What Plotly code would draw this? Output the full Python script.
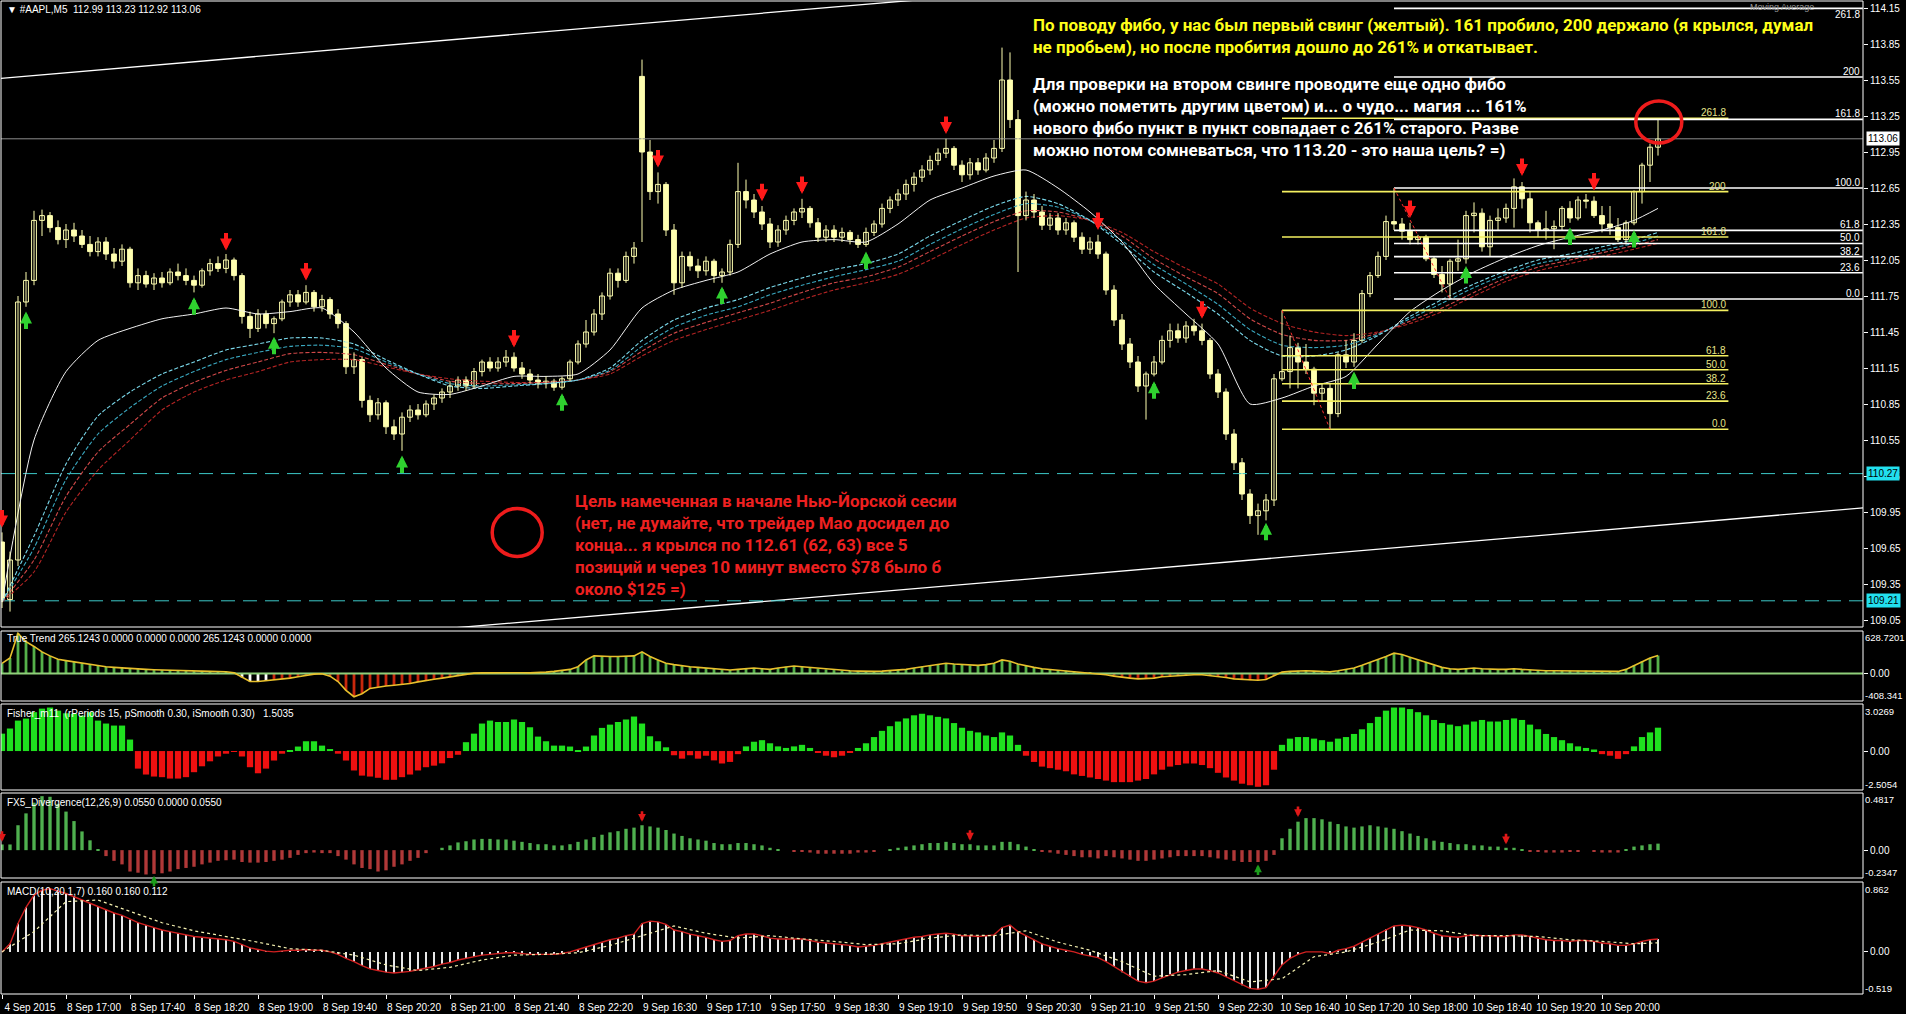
import plotly.graph_objects as go
from plotly.subplots import make_subplots

# ======================= DATA =======================
N_BARS = 208
bar_index = list(range(N_BARS))

tick_bars = list(range(0, 201, 8))
tick_texts = ["4 Sep 2015", "8 Sep 17:00", "8 Sep 17:40", "8 Sep 18:20", "8 Sep 19:00",
              "8 Sep 19:40", "8 Sep 20:20", "8 Sep 21:00", "8 Sep 21:40", "8 Sep 22:20",
              "9 Sep 16:30", "9 Sep 17:10", "9 Sep 17:50", "9 Sep 18:30", "9 Sep 19:10",
              "9 Sep 19:50", "9 Sep 20:30", "9 Sep 21:10", "9 Sep 21:50", "9 Sep 22:30",
              "10 Sep 16:40", "10 Sep 17:20", "10 Sep 18:00", "10 Sep 18:40", "10 Sep 19:20",
              "10 Sep 20:00"]

price_ticks = [109.05, 109.35, 109.65, 109.95, 110.25, 110.55, 110.85, 111.15, 111.45,
               111.75, 112.05, 112.35, 112.65, 112.95, 113.25, 113.55, 113.85, 114.15]

opens = [109.70, 109.22, 109.55, 111.70, 111.88, 112.38, 112.42, 112.32, 112.22, 112.30,
         112.25, 112.18, 112.12, 112.20, 112.10, 112.04, 112.14, 111.86, 111.92, 111.85,
         111.90, 111.86, 111.95, 111.92, 111.88, 111.84, 111.96, 112.02, 111.98, 112.05,
         111.92, 111.58, 111.48, 111.60, 111.52, 111.56, 111.70, 111.76, 111.70, 111.78,
         111.66, 111.72, 111.60, 111.52, 111.16, 111.22, 110.88, 110.76, 110.86, 110.66,
         110.60, 110.74, 110.80, 110.76, 110.85, 110.90, 110.95, 111.00, 111.05, 111.00,
         111.12, 111.20, 111.15, 111.20, 111.24, 111.15, 111.10, 111.05, 111.02, 111.04,
         110.99, 111.06, 111.20, 111.35, 111.45, 111.60, 111.75, 111.94, 111.88, 112.08,
         113.58, 112.95, 112.62, 112.68, 112.30, 111.86, 112.08, 112.00, 111.96, 112.04,
         111.92, 111.95, 112.18, 112.62, 112.55, 112.45, 112.35, 112.20, 112.30, 112.38,
         112.45, 112.48, 112.36, 112.24, 112.30, 112.24, 112.28, 112.22, 112.18, 112.28,
         112.35, 112.48, 112.55, 112.60, 112.68, 112.74, 112.80, 112.88, 112.94, 112.98,
         112.84, 112.76, 112.86, 112.80, 112.90, 112.98, 113.55, 113.22, 112.42, 112.55,
         112.45, 112.34, 112.40, 112.30, 112.36, 112.24, 112.14, 112.20, 112.10, 111.80,
         111.55, 111.35, 111.20, 111.00, 111.10, 111.20, 111.38, 111.46, 111.40, 111.50,
         111.46, 111.38, 111.10, 110.95, 110.60, 110.36, 110.10, 109.92, 109.96, 110.05,
         111.06, 111.12, 111.32, 111.20, 111.14, 110.94, 110.98, 110.77, 111.26, 111.20,
         111.38, 111.77, 111.92, 112.08, 112.37, 112.35, 112.29, 112.22, 112.24, 112.06,
         111.93, 111.85, 112.04, 112.06, 112.42, 112.44, 112.16, 112.38, 112.40, 112.48,
         112.66, 112.56, 112.36, 112.30, 112.31, 112.33, 112.48, 112.40, 112.55, 112.54,
         112.42, 112.35, 112.32, 112.22, 112.36, 112.62, 112.84, 112.99]

highs = [109.78, 109.62, 111.75, 111.95, 112.46, 112.47, 112.45, 112.38, 112.35, 112.36,
         112.30, 112.25, 112.24, 112.24, 112.15, 112.18, 112.16, 111.98, 111.96, 111.94,
         111.95, 111.98, 112.02, 111.98, 111.92, 111.98, 112.06, 112.08, 112.10, 112.07,
         111.94, 111.62, 111.64, 111.63, 111.58, 111.72, 111.80, 111.80, 111.84, 111.80,
         111.76, 111.74, 111.64, 111.54, 111.28, 111.24, 110.92, 110.90, 110.88, 110.72,
         110.78, 110.84, 110.85, 110.88, 110.93, 110.98, 111.04, 111.08, 111.08, 111.15,
         111.22, 111.24, 111.24, 111.30, 111.28, 111.20, 111.14, 111.10, 111.08, 111.06,
         111.08, 111.22, 111.38, 111.55, 111.64, 111.78, 111.98, 111.98, 112.12, 112.20,
         113.72, 113.05, 112.78, 112.70, 112.35, 112.12, 112.12, 112.06, 112.08, 112.06,
         111.98, 112.22, 112.86, 112.72, 112.60, 112.50, 112.40, 112.34, 112.42, 112.48,
         112.56, 112.50, 112.40, 112.34, 112.34, 112.32, 112.30, 112.26, 112.32, 112.38,
         112.52, 112.58, 112.64, 112.72, 112.78, 112.84, 112.92, 112.98, 113.06, 113.00,
         112.88, 112.90, 112.90, 112.94, 113.05, 113.82, 113.78, 113.30, 112.62, 112.60,
         112.50, 112.44, 112.44, 112.40, 112.38, 112.28, 112.24, 112.26, 112.12, 111.84,
         111.60, 111.40, 111.25, 111.12, 111.25, 111.42, 111.52, 111.52, 111.54, 111.56,
         111.52, 111.40, 111.14, 110.98, 110.64, 110.40, 110.14, 110.02, 110.10, 111.10,
         111.63, 111.42, 111.36, 111.35, 111.16, 111.02, 111.02, 111.28, 111.38, 111.44,
         111.80, 111.95, 112.12, 112.42, 112.65, 112.40, 112.36, 112.26, 112.26, 112.08,
         112.00, 112.06, 112.22, 112.46, 112.53, 112.48, 112.42, 112.48, 112.52, 112.73,
         112.70, 112.62, 112.38, 112.46, 112.38, 112.50, 112.54, 112.58, 112.60, 112.58,
         112.50, 112.50, 112.40, 112.38, 112.63, 112.86, 113.02, 113.23]

lows = [109.15, 109.12, 109.50, 111.66, 111.84, 112.25, 112.28, 112.18, 112.15, 112.20,
        112.15, 112.08, 112.08, 112.05, 111.98, 112.00, 111.82, 111.80, 111.82, 111.80,
        111.82, 111.84, 111.88, 111.84, 111.78, 111.82, 111.92, 111.95, 111.94, 111.88,
        111.52, 111.40, 111.45, 111.48, 111.44, 111.54, 111.66, 111.66, 111.68, 111.62,
        111.62, 111.56, 111.48, 111.10, 111.10, 110.82, 110.70, 110.72, 110.60, 110.55,
        110.46, 110.70, 110.72, 110.74, 110.80, 110.86, 110.90, 110.96, 110.96, 110.98,
        111.08, 111.12, 111.12, 111.16, 111.12, 111.06, 111.02, 110.98, 110.98, 110.96,
        110.97, 111.04, 111.18, 111.32, 111.42, 111.55, 111.72, 111.82, 111.86, 112.02,
        112.20, 112.55, 112.52, 112.25, 111.76, 111.82, 111.96, 111.90, 111.92, 111.86,
        111.86, 111.92, 112.15, 112.48, 112.40, 112.30, 112.15, 112.16, 112.26, 112.34,
        112.40, 112.32, 112.20, 112.20, 112.20, 112.20, 112.18, 112.15, 112.16, 112.25,
        112.32, 112.44, 112.50, 112.55, 112.62, 112.70, 112.76, 112.84, 112.90, 112.80,
        112.70, 112.72, 112.76, 112.78, 112.86, 112.95, 113.15, 111.95, 112.38, 112.40,
        112.30, 112.30, 112.26, 112.26, 112.20, 112.10, 112.10, 112.06, 111.76, 111.50,
        111.30, 111.15, 110.95, 110.72, 111.08, 111.18, 111.32, 111.36, 111.36, 111.42,
        111.34, 111.06, 110.90, 110.55, 110.30, 110.05, 109.85, 109.76, 109.88, 110.00,
        111.04, 110.98, 110.98, 111.10, 110.84, 110.88, 110.64, 110.74, 111.15, 111.16,
        111.36, 111.74, 111.90, 112.05, 112.30, 112.22, 112.18, 112.18, 112.04, 111.90,
        111.78, 111.725, 111.96, 112.02, 112.28, 112.12, 112.08, 112.30, 112.36, 112.32,
        112.48, 112.28, 112.24, 112.22, 112.14, 112.30, 112.36, 112.38, 112.48, 112.40,
        112.28, 112.26, 112.20, 112.18, 112.34, 112.52, 112.70, 112.92]

closes = [109.22, 109.55, 111.70, 111.88, 112.38, 112.42, 112.32, 112.22, 112.30, 112.25,
          112.18, 112.12, 112.20, 112.10, 112.04, 112.14, 111.86, 111.92, 111.85, 111.90,
          111.86, 111.95, 111.92, 111.88, 111.84, 111.96, 112.02, 111.98, 112.05, 111.92,
          111.58, 111.48, 111.60, 111.52, 111.56, 111.70, 111.76, 111.70, 111.78, 111.66,
          111.72, 111.60, 111.52, 111.16, 111.22, 110.88, 110.76, 110.86, 110.66, 110.60,
          110.74, 110.80, 110.76, 110.85, 110.90, 110.95, 111.00, 111.05, 111.00, 111.12,
          111.20, 111.15, 111.20, 111.24, 111.15, 111.10, 111.05, 111.02, 111.04, 110.99,
          111.06, 111.20, 111.35, 111.45, 111.60, 111.75, 111.94, 111.88, 112.08, 112.15,
          112.95, 112.62, 112.68, 112.30, 111.86, 112.08, 112.00, 111.96, 112.04, 111.92,
          111.95, 112.18, 112.62, 112.55, 112.45, 112.35, 112.20, 112.30, 112.38, 112.45,
          112.48, 112.36, 112.24, 112.30, 112.24, 112.28, 112.22, 112.18, 112.28, 112.35,
          112.48, 112.55, 112.60, 112.68, 112.74, 112.80, 112.88, 112.94, 112.98, 112.84,
          112.76, 112.86, 112.80, 112.90, 112.98, 113.55, 113.22, 112.42, 112.55, 112.45,
          112.34, 112.40, 112.30, 112.36, 112.24, 112.14, 112.20, 112.10, 111.80, 111.55,
          111.35, 111.20, 111.00, 111.10, 111.20, 111.38, 111.46, 111.40, 111.50, 111.46,
          111.38, 111.10, 110.95, 110.60, 110.36, 110.10, 109.92, 109.96, 110.05, 111.06,
          111.12, 111.32, 111.20, 111.14, 110.94, 110.98, 110.77, 111.26, 111.20, 111.38,
          111.77, 111.92, 112.08, 112.37, 112.35, 112.29, 112.22, 112.24, 112.06, 111.93,
          111.85, 112.04, 112.06, 112.42, 112.44, 112.16, 112.38, 112.40, 112.48, 112.66,
          112.56, 112.36, 112.30, 112.31, 112.33, 112.48, 112.40, 112.55, 112.54, 112.42,
          112.35, 112.32, 112.22, 112.36, 112.62, 112.84, 112.99, 113.06]

# moving averages, read every 4 bars
ma_bars = list(range(0, 205, 4)) + [207]
ma_white = [109.20, 110.55, 111.12, 111.38, 111.48, 111.56, 111.60, 111.65, 111.60, 111.62,
            111.65, 111.45, 111.15, 110.95, 110.93, 111.00, 111.08, 111.08, 111.10, 111.30,
            111.65, 111.80, 111.88, 111.95, 112.10, 112.20, 112.22, 112.20, 112.35, 112.55,
            112.65, 112.75, 112.80, 112.65, 112.45, 112.20, 111.85, 111.60, 111.35, 110.85,
            110.90, 111.00, 111.08, 111.35, 111.62, 111.80, 111.95, 112.07, 112.17, 112.24,
            112.30, 112.38, 112.48]
ma_cyan_1 = [109.20, 109.75, 110.35, 110.75, 110.95, 111.10, 111.20, 111.30, 111.35, 111.40,
             111.40, 111.35, 111.22, 111.10, 111.00, 110.98, 111.00, 111.02, 111.05, 111.15,
             111.38, 111.55, 111.65, 111.72, 111.82, 111.90, 111.97, 112.02, 112.10, 112.25,
             112.38, 112.50, 112.58, 112.52, 112.38, 112.18, 111.95, 111.78, 111.60, 111.38,
             111.25, 111.25, 111.30, 111.42, 111.58, 111.72, 111.85, 111.96, 112.05, 112.10,
             112.16, 112.22, 112.28]
ma_cyan_2 = [109.20, 109.65, 110.22, 110.60, 110.82, 111.00, 111.12, 111.22, 111.28, 111.33,
             111.34, 111.31, 111.20, 111.10, 111.02, 111.00, 111.01, 111.02, 111.05, 111.13,
             111.33, 111.49, 111.59, 111.66, 111.76, 111.84, 111.91, 111.97, 112.04, 112.18,
             112.31, 112.43, 112.52, 112.49, 112.38, 112.21, 112.01, 111.85, 111.68, 111.47,
             111.34, 111.32, 111.34, 111.43, 111.56, 111.69, 111.82, 111.93, 112.02, 112.07,
             112.13, 112.19, 112.25]
ma_red_1 = [109.20, 109.55, 110.08, 110.45, 110.68, 110.90, 111.03, 111.13, 111.20, 111.27,
            111.28, 111.26, 111.18, 111.10, 111.04, 111.02, 111.02, 111.03, 111.05, 111.12,
            111.29, 111.44, 111.53, 111.61, 111.69, 111.78, 111.86, 111.91, 111.99, 112.12,
            112.25, 112.37, 112.46, 112.45, 112.38, 112.25, 112.06, 111.91, 111.77, 111.56,
            111.43, 111.38, 111.38, 111.44, 111.54, 111.65, 111.78, 111.90, 111.99, 112.05,
            112.11, 112.17, 112.22]
ma_red_2 = [109.20, 109.45, 109.95, 110.30, 110.55, 110.80, 110.95, 111.05, 111.12, 111.20,
            111.22, 111.22, 111.16, 111.10, 111.06, 111.04, 111.03, 111.03, 111.05, 111.10,
            111.25, 111.38, 111.47, 111.55, 111.63, 111.72, 111.80, 111.86, 111.93, 112.05,
            112.18, 112.30, 112.40, 112.42, 112.38, 112.28, 112.12, 111.98, 111.85, 111.65,
            111.52, 111.45, 111.42, 111.45, 111.52, 111.62, 111.75, 111.87, 111.96, 112.02,
            112.08, 112.14, 112.19]

# signal arrows on the price chart (tip positions)
sell_bars = [0, 28, 38, 64, 82, 95, 100, 118, 137, 150, 176, 190, 199]
sell_prices = [109.82, 112.13, 111.88, 111.32, 112.82, 112.54, 112.60, 113.10, 112.30, 111.56,
               112.40, 112.75, 112.63]
buy_bars = [3, 24, 34, 50, 70, 90, 108, 144, 158, 169, 183, 196, 204]
buy_prices = [111.62, 111.74, 111.41, 110.42, 110.94, 111.83, 112.12, 111.04, 109.86, 111.12,
              112.00, 112.32, 112.30]

# Fibonacci retracements
fib_levels = [0.0, 23.6, 38.2, 50.0, 61.8, 100.0, 161.8, 200.0, 261.8]
fib_texts = ["0.0", "23.6", "38.2", "50.0", "61.8", "100.0", "161.8", "200", "261.8"]
fib_yellow = {"high_bar": 160, "high": 111.63, "low_bar": 166, "low": 110.64, "end_bar": 215.8}
fib_white = {"high_bar": 174, "high": 112.65, "low_bar": 181, "low": 111.725, "end_bar": 232.6}

# trend channel (two anchor points each)
channel_upper = [(0, 113.565), (100, 114.135)]
channel_lower = [(129.75, 109.40), (222.25, 109.925)]
target_levels = [110.27, 109.21]
bid_price = 113.06

# True Trend indicator
tt_values = [150, 230, 594, 470, 400, 320, 260, 210, 190, 170,
             150, 130, 115, 100, 90, 80, 72, 65, 60, 55,
             50, 45, 40, 38, 35, 32, 30, 28, 25, 10,
             -60, -120, -120, -110, -90, -80, -70, -50, -30, -10,
             -5, -40, -120, -250, -345, -300, -222, -200, -185, -175,
             -165, -150, -125, -100, -85, -70, -50, -30, -12, 5,
             8, 10, 12, 15, 12, 10, 8, 10, 20, 30,
             40, 60, 100, 200, 260, 250, 250, 250, 250, 260,
             320, 250, 200, 150, 130, 110, 100, 90, 80, 70,
             60, 50, 60, 70, 80, 70, 60, 80, 100, 110,
             100, 90, 70, 60, 50, 45, 40, 35, 30, 30,
             35, 40, 50, 60, 80, 100, 120, 140, 150, 140,
             130, 120, 120, 130, 150, 200, 180, 140, 110, 90,
             70, 60, 50, 40, 30, 20, 10, 0, -20, -40,
             -60, -70, -80, -80, -70, -50, -40, -30, -25, -20,
             -20, -30, -40, -60, -80, -90, -100, -100, -90, -40,
             20, 30, 40, 40, 35, 30, 25, 40, 60, 80,
             120, 160, 200, 250, 300, 280, 240, 200, 160, 120,
             90, 70, 60, 70, 80, 70, 60, 60, 60, 70,
             60, 50, 40, 40, 40, 40, 40, 40, 40, 35,
             30, 30, 30, 60, 120, 180, 230, 265.1243]
tt_white_bars = [30, 31, 32, 33]

# Fisher_m11
fisher_values = [1.12, 1.45, 1.96, 2.09, 2.50, 2.73, 2.80, 2.60, 2.43, 2.40,
                 2.28, 2.50, 1.96, 1.77, 1.64, 1.64, 0.74, -1.13, -1.51, -1.64,
                 -1.68, -1.77, -1.77, -1.68, -1.36, -0.98, -0.66, -0.35, -0.17, -0.05,
                 -0.35, -1.04, -1.43, -1.13, -0.61, -0.17, 0.05, 0.29, 0.63, 0.63,
                 0.35, 0.13, -0.17, -0.61, -1.25, -1.58, -1.64, -1.72, -1.85, -1.85,
                 -1.68, -1.51, -1.25, -1.04, -0.94, -0.79, -0.45, -0.24, 0.57, 1.12,
                 1.77, 1.96, 1.87, 1.87, 2.03, 1.87, 1.53, 0.93, 0.63, 0.35,
                 0.35, 0.29, 0.07, 0.29, 1.00, 1.49, 1.70, 1.87, 2.03, 2.22,
                 1.77, 0.95, 0.63, 0.24, -0.27, -0.49, -0.27, -0.49, -0.30, -0.60,
                 -0.80, -0.70, -0.20, 0.30, 0.60, 0.70, 0.50, 0.30, 0.20, 0.30,
                 0.40, 0.20, -0.10, -0.30, -0.40, -0.30, -0.10, 0.20, 0.50, 0.90,
                 1.30, 1.60, 1.90, 2.10, 2.30, 2.40, 2.30, 2.20, 2.10, 1.80,
                 1.50, 1.30, 1.20, 1.00, 0.90, 1.20, 1.00, 0.40, -0.30, -0.70,
                 -1.00, -1.10, -1.20, -1.30, -1.50, -1.60, -1.70, -1.80, -1.90, -2.00,
                 -2.00, -2.00, -1.90, -1.80, -1.50, -1.20, -1.00, -0.90, -0.80, -0.80,
                 -0.90, -1.10, -1.40, -1.70, -1.90, -2.10, -2.20, -2.30, -2.20, -1.20,
                 0.40, 0.80, 0.90, 0.90, 0.80, 0.70, 0.60, 0.80, 0.90, 1.10,
                 1.40, 1.80, 2.20, 2.60, 2.80, 2.80, 2.70, 2.50, 2.30, 2.00,
                 1.80, 1.70, 1.60, 1.70, 1.90, 2.00, 1.90, 1.90, 2.00, 2.10,
                 2.00, 1.70, 1.40, 1.10, 0.90, 0.70, 0.50, 0.30, 0.20, 0.10,
                 -0.20, -0.30, -0.50, -0.20, 0.30, 0.90, 1.20, 1.5035]

# FX5_Divergence
fx5_values = [0.048, 0.048, 0.21, 0.31, 0.40, 0.455, 0.45, 0.39, 0.325, 0.245,
              0.158, 0.083, 0.005, -0.05, -0.09, -0.12, -0.18, -0.19, -0.205, -0.20,
              -0.195, -0.18, -0.16, -0.15, -0.14, -0.12, -0.105, -0.09, -0.085, -0.08,
              -0.10, -0.105, -0.105, -0.10, -0.09, -0.08, -0.065, -0.04, -0.025, -0.02,
              -0.025, -0.025, -0.05, -0.08, -0.12, -0.15, -0.16, -0.18, -0.17, -0.14,
              -0.12, -0.09, -0.065, -0.025, 0.0, 0.02, 0.04, 0.065, 0.075, 0.09,
              0.095, 0.095, 0.09, 0.09, 0.08, 0.07, 0.06, 0.05, 0.05, 0.04,
              0.04, 0.05, 0.07, 0.09, 0.11, 0.13, 0.15, 0.16, 0.18, 0.19,
              0.21, 0.20, 0.19, 0.17, 0.14, 0.12, 0.10, 0.09, 0.08, 0.06,
              0.05, 0.05, 0.06, 0.06, 0.05, 0.04, 0.02, 0.01, 0.0, -0.01,
              -0.01, -0.02, -0.03, -0.03, -0.03, -0.03, -0.03, -0.02, -0.02, -0.01,
              0.0, 0.01, 0.02, 0.03, 0.04, 0.05, 0.06, 0.06, 0.07, 0.06,
              0.05, 0.05, 0.04, 0.04, 0.04, 0.07, 0.07, 0.05, 0.03, 0.01,
              -0.01, -0.02, -0.03, -0.04, -0.05, -0.06, -0.06, -0.07, -0.05, -0.06,
              -0.07, -0.08, -0.09, -0.09, -0.08, -0.07, -0.06, -0.05, -0.05, -0.05,
              -0.05, -0.06, -0.07, -0.08, -0.09, -0.10, -0.10, -0.10, -0.09, -0.04,
              0.10, 0.18, 0.24, 0.27, 0.27, 0.26, 0.24, 0.22, 0.20, 0.19,
              0.20, 0.21, 0.20, 0.19, 0.18, 0.16, 0.14, 0.12, 0.10, 0.08,
              0.07, 0.06, 0.05, 0.05, 0.04, 0.04, 0.03, 0.03, 0.02, 0.02,
              0.01, -0.01, -0.01, -0.02, -0.02, -0.02, -0.01, -0.01, 0.0, -0.01,
              -0.02, -0.02, -0.02, 0.01, 0.03, 0.04, 0.05, 0.055]
fx5_sell_bars = [0, 80, 121, 162, 188]
fx5_sell_values = [0.07, 0.24, 0.08, 0.28, 0.05]
fx5_buy_bars = [19, 157]
fx5_buy_values = [-0.215, -0.12]

# MACD(10,20,1,7)
macd_values = [0.00, 0.10, 0.35, 0.55, 0.70, 0.76, 0.78, 0.75, 0.72, 0.68,
               0.64, 0.60, 0.56, 0.52, 0.48, 0.45, 0.40, 0.36, 0.33, 0.30,
               0.27, 0.25, 0.23, 0.21, 0.19, 0.18, 0.17, 0.16, 0.15, 0.13,
               0.09, 0.05, 0.03, 0.01, 0.00, 0.01, 0.02, 0.02, 0.03, 0.02,
               0.02, 0.00, -0.03, -0.08, -0.12, -0.17, -0.21, -0.23, -0.25, -0.26,
               -0.25, -0.24, -0.22, -0.20, -0.18, -0.15, -0.13, -0.10, -0.08, -0.06,
               -0.04, -0.03, -0.02, -0.01, -0.01, -0.02, -0.03, -0.03, -0.03, -0.03,
               -0.02, 0.00, 0.03, 0.06, 0.09, 0.12, 0.15, 0.17, 0.20, 0.22,
               0.35, 0.38, 0.37, 0.34, 0.27, 0.25, 0.22, 0.20, 0.18, 0.15,
               0.13, 0.14, 0.20, 0.22, 0.22, 0.20, 0.17, 0.16, 0.16, 0.16,
               0.16, 0.14, 0.12, 0.11, 0.10, 0.09, 0.08, 0.06, 0.07, 0.08,
               0.10, 0.12, 0.14, 0.16, 0.18, 0.19, 0.21, 0.22, 0.23, 0.22,
               0.20, 0.20, 0.19, 0.20, 0.21, 0.30, 0.33, 0.25, 0.20, 0.15,
               0.10, 0.07, 0.04, 0.02, 0.00, -0.03, -0.05, -0.07, -0.12, -0.18,
               -0.25, -0.31, -0.36, -0.38, -0.36, -0.32, -0.28, -0.25, -0.23, -0.21,
               -0.21, -0.23, -0.26, -0.31, -0.36, -0.41, -0.45, -0.46, -0.44, -0.30,
               -0.16, -0.08, -0.03, 0.00, 0.00, 0.00, -0.02, 0.02, 0.04, 0.07,
               0.12, 0.17, 0.22, 0.28, 0.32, 0.33, 0.32, 0.30, 0.27, 0.23,
               0.20, 0.19, 0.18, 0.20, 0.21, 0.20, 0.20, 0.19, 0.19, 0.21,
               0.21, 0.19, 0.17, 0.15, 0.14, 0.14, 0.13, 0.14, 0.14, 0.13,
               0.11, 0.10, 0.08, 0.08, 0.10, 0.13, 0.15, 0.16]
macd_signal = [0.00, 0.25, 0.62, 0.64, 0.50, 0.36, 0.26, 0.19, 0.12, 0.04,
               0.02, -0.04, -0.16, -0.23, -0.19, -0.10, -0.04, -0.03, -0.01, 0.08,
               0.20, 0.32, 0.23, 0.17, 0.20, 0.16, 0.13, 0.09, 0.10, 0.17,
               0.21, 0.20, 0.26, 0.12, 0.02, -0.12, -0.30, -0.28, -0.23, -0.37,
               -0.33, -0.06, 0.00, 0.12, 0.27, 0.26, 0.20, 0.20, 0.19, 0.15,
               0.13, 0.10, 0.112]

# indicator window scales (as printed on the right)
tt_range = [-408.341, 628.7201]
fisher_range = [-2.5054, 3.0269]
fx5_range = [-0.2347, 0.4817]
macd_range = [-0.519, 0.862]

# ======================= LAYOUT CONSTANTS =======================
W, H = 1906, 1014
ML, MR, MT, MB = 1, 43, 0, 20
PW = W - ML - MR
PH = H - MT - MB
X_RANGE = [-0.125, -0.125 + PW / 8.0]
PRICE_RANGE = [114.15 - (627 - 8) / 120.0, 114.15 + (8 - 1) / 120.0]
panel_px = [(1, 627), (631, 701), (704, 790), (793, 878), (882, 994)]


def ypap(py):
    return (H - MB - py) / PH


def xpap(px):
    return (px - ML) / PW


FONT = "Liberation Sans"
CREAM = "#ffffb0"

fig = make_subplots(rows=5, cols=1, shared_xaxes=True, vertical_spacing=0.0)

# ---------------- main price panel ----------------
for pts in (channel_upper, channel_lower):
    (xa, ya), (xb, yb) = pts
    slope = (yb - ya) / (xb - xa)
    xs = [X_RANGE[0] - 2, X_RANGE[1] + 2]
    ys = [ya + slope * (x - xa) for x in xs]
    fig.add_trace(go.Scatter(x=xs, y=ys, mode="lines", line=dict(color="white", width=1.3),
                             hoverinfo="skip"), row=1, col=1)

for lvl in target_levels:
    fig.add_trace(go.Scatter(x=[X_RANGE[0], X_RANGE[1]], y=[lvl, lvl], mode="lines",
                             line=dict(color="#3cc8c8", width=1, dash="14px,8px"),
                             hoverinfo="skip"), row=1, col=1)

fig.add_trace(go.Scatter(x=[X_RANGE[0], X_RANGE[1]], y=[bid_price, bid_price], mode="lines",
                         line=dict(color="#8c8c8c", width=1), hoverinfo="skip"), row=1, col=1)

for vals, col in ((ma_red_2, "#b32424"), (ma_red_1, "#d04848"),
                  (ma_cyan_2, "#3aa8c0"), (ma_cyan_1, "#7ad8ea")):
    fig.add_trace(go.Scatter(x=ma_bars, y=vals, mode="lines",
                             line=dict(color=col, width=1.1, dash="4px,2px", shape="spline", smoothing=0.6),
                             hoverinfo="skip"), row=1, col=1)
fig.add_trace(go.Scatter(x=ma_bars, y=ma_white, mode="lines",
                         line=dict(color="#f0f0f0", width=1, shape="spline", smoothing=0.6),
                         hoverinfo="skip"), row=1, col=1)

wx, wy = [], []
for i in bar_index:
    wx += [i, i, None]
    wy += [lows[i], highs[i], None]
fig.add_trace(go.Scatter(x=wx, y=wy, mode="lines", line=dict(color=CREAM, width=1),
                         hoverinfo="skip"), row=1, col=1)
body_base = [min(o, c) for o, c in zip(opens, closes)]
body_len = [max(abs(c - o), 0.006) for o, c in zip(opens, closes)]
body_fill = ["#000000" if c >= o else CREAM for o, c in zip(opens, closes)]
fig.add_trace(go.Bar(x=bar_index, y=body_len, base=body_base, width=0.6,
                     marker=dict(color=body_fill, line=dict(color=CREAM, width=1)),
                     hoverinfo="skip"), row=1, col=1)


def add_fibo(fb, line_col, label_col):
    xs, ys = [], []
    for lv, tx in zip(fib_levels, fib_texts):
        p = fb["low"] + (fb["high"] - fb["low"]) * lv / 100.0
        xs += [fb["high_bar"], fb["end_bar"], None]
        ys += [p, p, None]
        near_top = (PRICE_RANGE[1] - p) < 0.1
        fig.add_annotation(x=fb["end_bar"] - 0.1, y=p, xref="x", yref="y", text=tx, showarrow=False,
                           xanchor="right", yanchor="top" if near_top else "bottom",
                           yshift=1 if near_top else -2,
                           font=dict(family=FONT, size=10, color=label_col))
    fig.add_trace(go.Scatter(x=xs, y=ys, mode="lines", line=dict(color=line_col, width=1.6),
                             hoverinfo="skip"), row=1, col=1)
    fig.add_trace(go.Scatter(x=[fb["high_bar"], fb["low_bar"]], y=[fb["high"], fb["low"]],
                             mode="lines", line=dict(color="#ff3030", width=1, dash="dot"),
                             hoverinfo="skip"), row=1, col=1)


add_fibo(fib_yellow, "#f4f060", "#e6e48a")
add_fibo(fib_white, "#ffffff", "#ffffff")

# ---------------- True Trend ----------------
tt_colors = []
for i, v in enumerate(tt_values):
    if i in tt_white_bars:
        tt_colors.append("#ffffff")
    elif v >= 0:
        tt_colors.append("#55b04a")
    else:
        tt_colors.append("#c8280c")
fig.add_trace(go.Bar(x=bar_index, y=tt_values, width=0.35, marker=dict(color=tt_colors, line_width=0),
                     hoverinfo="skip"), row=2, col=1)
fig.add_trace(go.Scatter(x=[X_RANGE[0], X_RANGE[1]], y=[0, 0], mode="lines",
                         line=dict(color="#8fcf7a", width=2), hoverinfo="skip"), row=2, col=1)
fig.add_trace(go.Scatter(x=bar_index, y=tt_values, mode="lines",
                         line=dict(color="#e8c02c", width=1.6), hoverinfo="skip"), row=2, col=1)

# ---------------- Fisher ----------------
fisher_colors = ["#1fe01f" if v >= 0 else "#ee1010" for v in fisher_values]
fig.add_trace(go.Bar(x=bar_index, y=fisher_values, width=0.78,
                     marker=dict(color=fisher_colors, line_width=0), hoverinfo="skip"), row=3, col=1)

# ---------------- FX5 Divergence ----------------
fx5_colors = ["#4fb04f" if v >= 0 else "#b03838" for v in fx5_values]
fig.add_trace(go.Bar(x=bar_index, y=fx5_values, width=0.42,
                     marker=dict(color=fx5_colors, line_width=0), hoverinfo="skip"), row=4, col=1)

# ---------------- MACD ----------------
fig.add_trace(go.Bar(x=bar_index, y=macd_values, width=0.16,
                     marker=dict(color="#e8e8e8", line_width=0), hoverinfo="skip"), row=5, col=1)
fig.add_trace(go.Scatter(x=bar_index, y=macd_values, mode="lines",
                         line=dict(color="#d02020", width=1.4), hoverinfo="skip"), row=5, col=1)
fig.add_trace(go.Scatter(x=ma_bars, y=macd_signal, mode="lines",
                         line=dict(color="#f4f0b0", width=1.2, dash="3px,3px"),
                         hoverinfo="skip"), row=5, col=1)

# ======================= AXES =======================
ranges = [PRICE_RANGE, tt_range, fisher_range, fx5_range, macd_range]
lay = dict(width=W, height=H, margin=dict(l=ML, r=MR, t=MT, b=MB),
           paper_bgcolor="#000000", plot_bgcolor="#000000", showlegend=False,
           barmode="overlay", hovermode=False,
           font=dict(family=FONT, color="white", size=10))
for k, (top, bot) in enumerate(panel_px):
    sfx = "" if k == 0 else str(k + 1)
    lay["yaxis" + sfx] = dict(domain=[ypap(bot), ypap(top)], range=ranges[k], side="right",
                              showgrid=False, zeroline=False, fixedrange=True,
                              ticks="outside", ticklen=4, tickcolor="white",
                              tickfont=dict(family=FONT, size=10, color="white"))
    lay["xaxis" + sfx] = dict(range=X_RANGE, showgrid=False, zeroline=False, fixedrange=True,
                              showticklabels=False, ticks="")
lay["yaxis"].update(tickvals=price_ticks, ticktext=["%.2f" % v for v in price_ticks])
for sfx in ("2", "3", "4", "5"):
    lay["yaxis" + sfx].update(tickvals=[0], ticktext=["0.00"])
lay["xaxis5"].update(showticklabels=True, tickvals=tick_bars, ticktext=tick_texts, ticks="outside",
                     ticklen=4, tickcolor="white", ticklabelshift=28,
                     tickfont=dict(family=FONT, size=10, color="white"))
fig.update_layout(**lay)

shapes = []
for k in range(5):
    sfx = "" if k == 0 else str(k + 1)
    shapes.append(dict(type="rect", xref="x%s domain" % sfx, yref="y%s domain" % sfx,
                       x0=0, x1=1, y0=0, y1=1, line=dict(color="white", width=1), layer="above"))
for cx, cy, rx, ry in ((207.1, 113.20, 23, 21), (64.4, 109.78, 25, 24)):
    shapes.append(dict(type="circle", xref="x", yref="y", xsizemode="pixel", ysizemode="pixel",
                       xanchor=cx, yanchor=cy, x0=-rx, x1=rx, y0=-ry, y1=ry,
                       line=dict(color="#ee1c1c", width=3.5)))
fig.update_layout(shapes=shapes)

# ======================= TEXT & ARROWS =======================
ann = []
# thick signal arrows (tip at the data point, shaft + head)
for b, p in zip(sell_bars, sell_prices):
    ann.append(dict(x=b, y=p, xref="x", yref="y", text="", showarrow=True, ax=0, ay=-19,
                    arrowhead=2, arrowsize=0.6, arrowwidth=4, arrowcolor="#ff1a1a"))
for b, p in zip(buy_bars, buy_prices):
    ann.append(dict(x=b, y=p, xref="x", yref="y", text="", showarrow=True, ax=0, ay=19,
                    arrowhead=2, arrowsize=0.6, arrowwidth=4, arrowcolor="#2fd12f"))
for b, v in zip(fx5_sell_bars, fx5_sell_values):
    ann.append(dict(x=b, y=v, xref="x4", yref="y4", text="", showarrow=True, ax=0, ay=-12,
                    arrowhead=2, arrowsize=0.6, arrowwidth=2.6, arrowcolor="#e01818"))
for b, v in zip(fx5_buy_bars, fx5_buy_values):
    ann.append(dict(x=b, y=v, xref="x4", yref="y4", text="", showarrow=True, ax=0, ay=12,
                    arrowhead=2, arrowsize=0.6, arrowwidth=2.6, arrowcolor="#1c9c1c"))

for val, bg in ((bid_price, "#ffffff"), (target_levels[0], "#22e0ee"), (target_levels[1], "#22e0ee")):
    ann.append(dict(xref="paper", yref="y", x=1.0, y=val, xanchor="left", xshift=3,
                    text="%.2f" % val, showarrow=False, bgcolor=bg, borderpad=1,
                    font=dict(family=FONT, size=10, color="#000000")))
scale_labels = [("628.7201", 637), ("-408.341", 695), ("3.0269", 711), ("-2.5054", 784),
                ("0.4817", 799), ("-0.2347", 872), ("0.862", 889), ("-0.519", 988)]
for tx, py in scale_labels:
    ann.append(dict(xref="paper", yref="paper", x=1.0, y=ypap(py), xanchor="left", yanchor="middle",
                    xshift=0, text=tx, showarrow=False,
                    font=dict(family=FONT, size=9.5, color="white")))
titles = [("\u25bc #AAPL,M5  112.99 113.23 112.92 113.06", 9),
          ("True Trend 265.1243 0.0000 0.0000 0.0000 265.1243 0.0000 0.0000", 638),
          ("Fisher_m11  (rPeriods 15, pSmooth 0.30, iSmooth 0.30)   1.5035", 713),
          ("FX5_Divergence(12,26,9) 0.0550 0.0000 0.0550", 802),
          ("MACD(10,20,1,7) 0.160 0.160 0.112", 891)]
for tx, py in titles:
    ann.append(dict(xref="paper", yref="paper", x=xpap(5), y=ypap(py), xanchor="left",
                    yanchor="middle", text=tx, showarrow=False,
                    font=dict(family=FONT, size=10, color="white")))
ann.append(dict(xref="paper", yref="paper", x=xpap(1748), y=ypap(7), xanchor="left", yanchor="middle",
                text="Moving Average", showarrow=False, font=dict(family=FONT, size=9, color="#9a9a9a")))

yellow_text = ("По поводу фибо, у нас был первый свинг (желтый). 161 пробило, 200 держало (я крылся, думал<br>"
               "не пробьем), но после пробития дошло до 261% и откатывает.")
white_text = ("Для проверки на втором свинге проводите еще одно фибо<br>"
              "(можно пометить другим цветом) и... о чудо... магия ... 161%<br>"
              "нового фибо пункт в пункт совпадает с 261% старого. Разве<br>"
              "можно потом сомневаться, что 113.20 - это наша цель? =)")
red_text = ("Цель намеченная в начале Нью-Йорской сесии<br>"
            "(нет, не думайте, что трейдер Мао досидел до<br>"
            "конца... я крылся по 112.61 (62, 63) все 5<br>"
            "позиций и через 10 минут вместо $78 было б<br>"
            "около $125 =)")
for tx, col, px, py in ((yellow_text, "#ffff1a", 1031, 13), (white_text, "#ffffff", 1031, 72),
                        (red_text, "#ee2020", 573, 489)):
    ann.append(dict(xref="paper", yref="paper", x=xpap(px), y=ypap(py), xanchor="left", yanchor="top",
                    align="left", text="<b>" + tx + "</b>", showarrow=False,
                    font=dict(family="Roboto", size=17, color=col)))

fig.update_layout(annotations=list(fig.layout.annotations) + ann)

fig.write_html("out.html", include_plotlyjs=True, config={"displayModeBar": False})
